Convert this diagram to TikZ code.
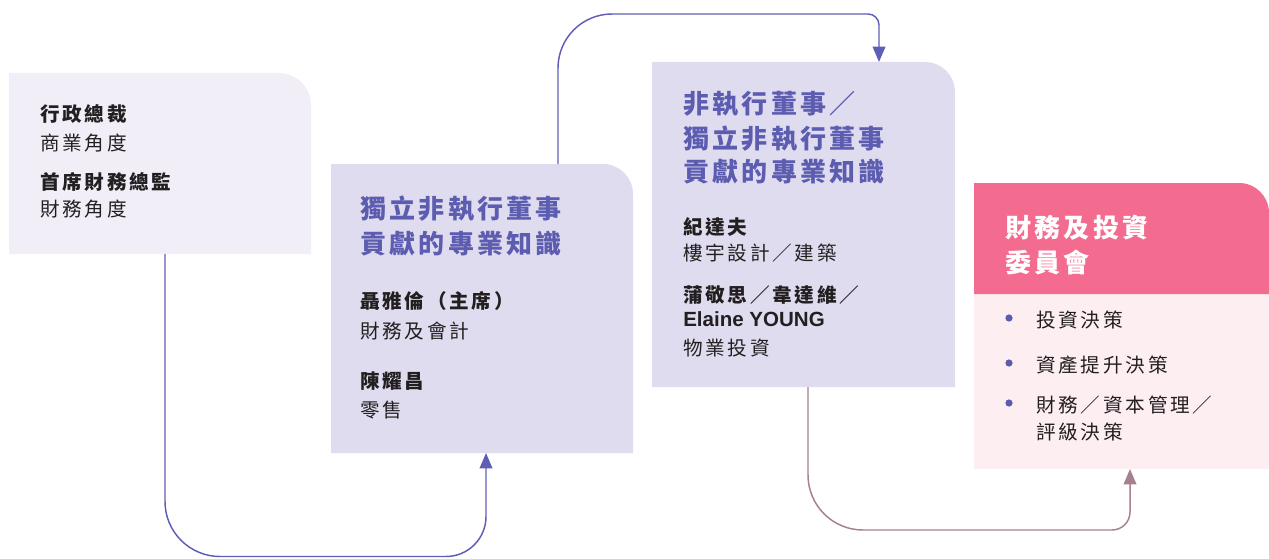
\documentclass[tikz,border=0pt]{standalone}
\usepackage{fontspec}
\usetikzlibrary{arrows.meta,calc,fit}
\newfontfamily\cjk{Noto Sans CJK TC}[LetterSpace=14]
\newfontfamily\cjkt{Noto Sans CJK TC}[LetterSpace=12.5]
\newfontfamily\latb{Liberation Sans}
\definecolor{boxlight}{HTML}{F1EEF8}
\definecolor{boxmid}{HTML}{E0DCF0}
\definecolor{violett}{HTML}{5C5CB0}
\definecolor{lineblue}{HTML}{5F5EB6}
\definecolor{linemauve}{HTML}{A6808F}
\definecolor{pinkhead}{HTML}{F36B8F}
\definecolor{pinklow}{HTML}{FDEEF2}
\definecolor{ink}{HTML}{231F20}
\begin{document}
\begin{tikzpicture}[x=0.75pt,y=0.75pt,
  bodytxt/.style={anchor=base west, inner sep=0pt, text=ink, font=\cjk\fontsize{14.7pt}{17pt}\selectfont},
  nmtxt/.style={anchor=base west, inner sep=0pt, text=ink, font=\cjk\bfseries\fontsize{14.7pt}{17pt}\selectfont},
  ttltxt/.style={anchor=base west, inner sep=0pt, text=violett, font=\cjkt\bfseries\fontsize{19.5pt}{23pt}\selectfont},
  conn/.style={line width=1.1pt, draw=lineblue, -{Triangle[length=11.5pt,width=9.5pt,fill=lineblue]}},
  conn2/.style={line width=1.1pt, draw=linemauve, -{Triangle[length=11.5pt,width=9.5pt,fill=linemauve]}},
  frame/.style={inner sep=0pt, outer sep=0pt}]
\useasboundingbox (0,0) rectangle (1269,558);

% box 1
\fill[boxlight] (9,304) -- (9,485) -- (279,485) arc[start angle=90,end angle=0,radius=32] -- (311,304) -- cycle;
\node[frame, fit={(9,304)(311,485)}] (b1) {};
% box 2
\fill[boxmid] (331,105) -- (331,394) -- (603,394) arc[start angle=90,end angle=0,radius=30] -- (633,105) -- cycle;
\node[frame, fit={(331,105)(633,394)}] (b2) {};
% box 3
\fill[boxmid] (652,171) -- (652,496) -- (925,496) arc[start angle=90,end angle=0,radius=30] -- (955,171) -- cycle;
\node[frame, fit={(652,171)(955,496)}] (b3) {};
% box 4
\fill[pinklow] (974,89) -- (974,375) -- (1239,375) arc[start angle=90,end angle=0,radius=30] -- (1269,89) -- cycle;
\fill[pinkhead] (974,264) -- (974,375) -- (1239,375) arc[start angle=90,end angle=0,radius=30] -- (1269,264) -- cycle;
\node[frame, fit={(974,89)(1269,375)}] (b4) {};

% connectors
\coordinate (c1s) at ($(b1.south west)+(156,0)$);
\coordinate (c1e) at ($(b2.south west)+(155,0)$);
\draw[conn] (c1s) -- (165,56.5) arc[start angle=180,end angle=270,radius=55] -- (446,1.5) arc[start angle=-90,end angle=0,radius=40] -- (c1e);

\coordinate (c2s) at ($(b2.north west)+(227,0)$);
\coordinate (c2e) at ($(b3.north west)+(227,0)$);
\draw[conn] (c2s) -- (558,490) arc[start angle=180,end angle=90,radius=54] -- (868,544) arc[start angle=90,end angle=0,radius=11] -- (c2e);

\coordinate (c3s) at ($(b3.south west)+(156,0)$);
\coordinate (c3e) at ($(b4.south west)+(156,0)$);
\draw[conn2] (c3s) -- (808,83) arc[start angle=180,end angle=270,radius=55] -- (1112,28) arc[start angle=-90,end angle=0,radius=18] -- (c3e);

% box 1 text
\node[nmtxt] (t1a) at (40,436) {行政總裁};
\node[bodytxt] (t1b) at (40,407) {商業角度};
\node[nmtxt] (t1c) at (40,369) {首席財務總監};
\node[bodytxt] (t1d) at (40,342) {財務角度};

% box 2 text
\node[ttltxt] (t2a) at (360,340) {獨立非執行董事};
\node[ttltxt] (t2b) at (360,305) {貢獻的專業知識};
\node[nmtxt] (t2c) at (360,250) {聶雅倫（主席）};
\node[bodytxt] (t2d) at (360,220) {財務及會計};
\node[nmtxt] (t2e) at (360,170) {陳耀昌};
\node[bodytxt] (t2f) at (360,141) {零售};

% box 3 text
\node[ttltxt] (t3a) at (683,444) {非執行董事／};
\node[ttltxt] (t3b) at (683,409) {獨立非執行董事};
\node[ttltxt] (t3c) at (683,377) {貢獻的專業知識};
\node[nmtxt] (t3d) at (683,324) {紀達夫};
\node[bodytxt] (t3e) at (683,298) {樓宇設計／建築};
\node[nmtxt] (t3f) at (683,256) {蒲敬思／韋達維／};
\node[anchor=base west, inner sep=0pt, text=ink, font=\latb\bfseries\fontsize{15.4pt}{18pt}\selectfont] (t3g) at (683,232) {Elaine YOUNG};
\node[bodytxt] (t3h) at (683,203) {物業投資};

% box 4 text
\node[ttltxt, text=white] (t4a) at (1005,321) {財務及投資};
\node[ttltxt, text=white] (t4b) at (1005,286) {委員會};
\fill[violett] (1009,240) circle[radius=3.6];
\fill[violett] (1009,195) circle[radius=3.6];
\fill[violett] (1009,155) circle[radius=3.6];
\node[bodytxt] (t4c) at (1036,231) {投資決策};
\node[bodytxt] (t4d) at (1036,186) {資產提升決策};
\node[bodytxt] (t4e) at (1036,146) {財務／資本管理／};
\node[bodytxt] (t4f) at (1036,119) {評級決策};
\end{tikzpicture}
\end{document}
